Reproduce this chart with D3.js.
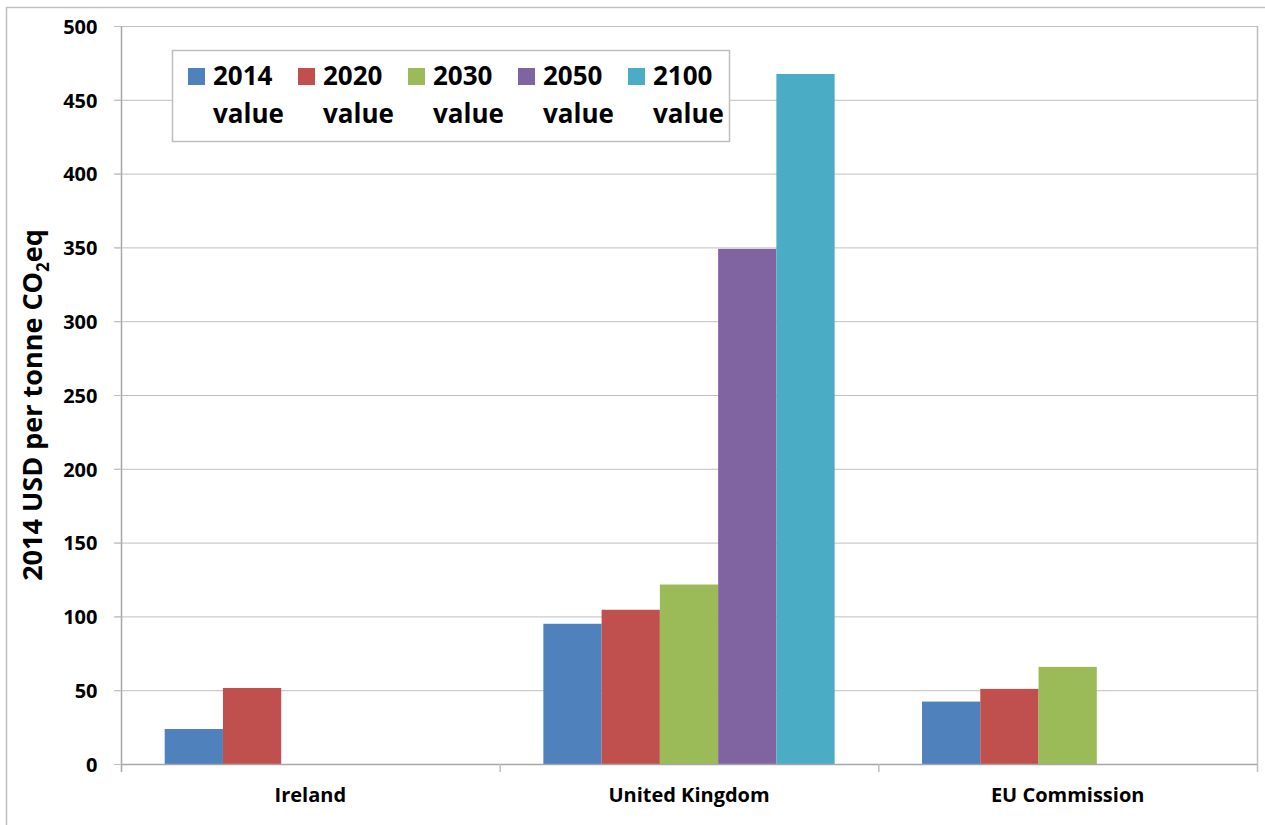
<!DOCTYPE html>
<html>
<head>
<meta charset="utf-8">
<script src="https://cdn.jsdelivr.net/npm/d3@7"></script>
<style>
  body { margin: 0; background: #fff; }
  svg { display: block; font-family: "Open Sans", Lato, sans-serif; font-weight: bold; }
</style>
</head>
<body>
<svg id="chart" width="1265" height="825"></svg>
<script>
// Carbon price by source, 2014 USD per tonne CO2eq
const categories = ["Ireland", "United Kingdom", "EU Commission"];
const seriesNames = ["2014 value", "2020 value", "2030 value", "2050 value", "2100 value"];
const seriesColors = ["#4F81BD", "#C0504D", "#9BBB59", "#8064A2", "#4BACC6"];
const value2014 = [23.7, 95, 42.3];
const value2020 = [51.5, 104.5, 50.9];
const value2030 = [null, 121.6, 65.8];
const value2050 = [null, 349, null];
const value2100 = [null, 467.5, null];
const yTicks = [0, 50, 100, 150, 200, 250, 300, 350, 400, 450, 500];

const seriesValues = [value2014, value2020, value2030, value2050, value2100];

const FONT = "'Open Sans', Lato, sans-serif";
const svg = d3.select("#chart");
const plot = { left: 121, right: 1257, top: 26, bottom: 764 };

// outer chart frame
svg.append("rect")
  .attr("x", 6.5).attr("y", 7.5)
  .attr("width", 1300).attr("height", 900)
  .attr("fill", "none").attr("stroke", "#BFBFBF").attr("stroke-width", 1.5);

const x0 = d3.scaleBand().domain(categories).range([plot.left, plot.right]).paddingInner(0).paddingOuter(0);
// 150% gap: bars fill 5/(5+1.5) of each band, centred
const groupWidth = x0.bandwidth() * 5 / 6.5;
const x1 = d3.scaleBand().domain(seriesNames).range([0, groupWidth]).padding(0);
const y = d3.scaleLinear().domain([0, 500]).range([plot.bottom, plot.top]);

// gridlines
svg.append("g")
  .selectAll("line")
  .data(yTicks)
  .join("line")
  .attr("x1", plot.left - 7).attr("x2", plot.right)
  .attr("y1", d => y(d) + 0.5).attr("y2", d => y(d) + 0.5)
  .attr("stroke", "#BFBFBF").attr("stroke-width", 1);

// right edge of plot area
svg.append("line")
  .attr("x1", plot.right + 0.5).attr("x2", plot.right + 0.5)
  .attr("y1", plot.top).attr("y2", plot.bottom + 8)
  .attr("stroke", "#BFBFBF").attr("stroke-width", 1.5);

// bars
const groups = svg.append("g")
  .selectAll("g")
  .data(categories)
  .join("g")
  .attr("transform", c => `translate(${x0(c) + (x0.bandwidth() - groupWidth) / 2},0)`);

groups.selectAll("rect")
  .data((c, ci) => seriesNames.map((s, si) => ({ s, si, v: seriesValues[si][ci] })).filter(d => d.v != null))
  .join("rect")
  .attr("x", d => x1(d.s))
  .attr("width", x1.bandwidth())
  .attr("y", d => y(d.v))
  .attr("height", d => y(0) - y(d.v))
  .attr("fill", d => seriesColors[d.si]);

// y axis
const yAxis = d3.axisLeft(y).tickValues(yTicks).tickSize(7).tickPadding(17);
const yg = svg.append("g").attr("transform", `translate(${plot.left + 0.5},0)`).call(yAxis);
yg.select(".domain").attr("stroke", "#A6A6A6").attr("stroke-width", 1.5).attr("d", `M0,${plot.top}V${plot.bottom + 8}`);
yg.selectAll(".tick line").attr("stroke", "#BFBFBF");
yg.selectAll(".tick text")
  .attr("font-size", 20).attr("font-family", FONT).attr("font-weight", "bold")
  .attr("fill", "#000").attr("dy", "0.36em");

// x axis
const xAxis = d3.axisBottom(x0).tickSize(0);
const xg = svg.append("g").attr("transform", `translate(0,${plot.bottom + 0.5})`).call(xAxis);
xg.select(".domain").attr("stroke", "#A6A6A6").attr("stroke-width", 1.5).attr("d", `M${plot.left},0H${plot.right}`);
xg.selectAll(".tick text")
  .attr("font-size", 20).attr("font-family", FONT).attr("font-weight", "bold")
  .attr("fill", "#000").attr("y", 37).attr("dy", 0);
// category separators
svg.append("g")
  .selectAll("line")
  .data(categories.slice(1))
  .join("line")
  .attr("x1", c => x0(c) + 0.5).attr("x2", c => x0(c) + 0.5)
  .attr("y1", plot.bottom).attr("y2", plot.bottom + 8)
  .attr("stroke", "#BFBFBF").attr("stroke-width", 1.5);

// y axis title
const title = svg.append("text")
  .attr("transform", `translate(42,405) rotate(-90)`)
  .attr("text-anchor", "middle")
  .attr("font-size", 27).attr("fill", "#000");
title.append("tspan").text("2014 USD per tonne CO");
title.append("tspan").attr("font-size", 17).attr("dy", 7).text("2");
title.append("tspan").attr("dy", -7).text("eq");

// legend
const legend = svg.append("g");
legend.append("rect")
  .attr("x", 172.5).attr("y", 50.5).attr("width", 557).attr("height", 91)
  .attr("fill", "#fff").attr("stroke", "#BFBFBF").attr("stroke-width", 1.5);
const items = legend.selectAll("g")
  .data(seriesNames)
  .join("g")
  .attr("transform", (d, i) => `translate(${188 + i * 110},0)`);
items.append("rect")
  .attr("x", 0).attr("y", 68).attr("width", 17).attr("height", 17)
  .attr("fill", (d, i) => seriesColors[i]);
items.append("text")
  .attr("x", 25).attr("y", 85)
  .attr("font-size", 26).attr("fill", "#000")
  .text(d => d.split(" ")[0]);
items.append("text")
  .attr("x", 25).attr("y", 123)
  .attr("font-size", 26).attr("fill", "#000")
  .text(d => d.split(" ")[1]);
</script>
</body>
</html>
